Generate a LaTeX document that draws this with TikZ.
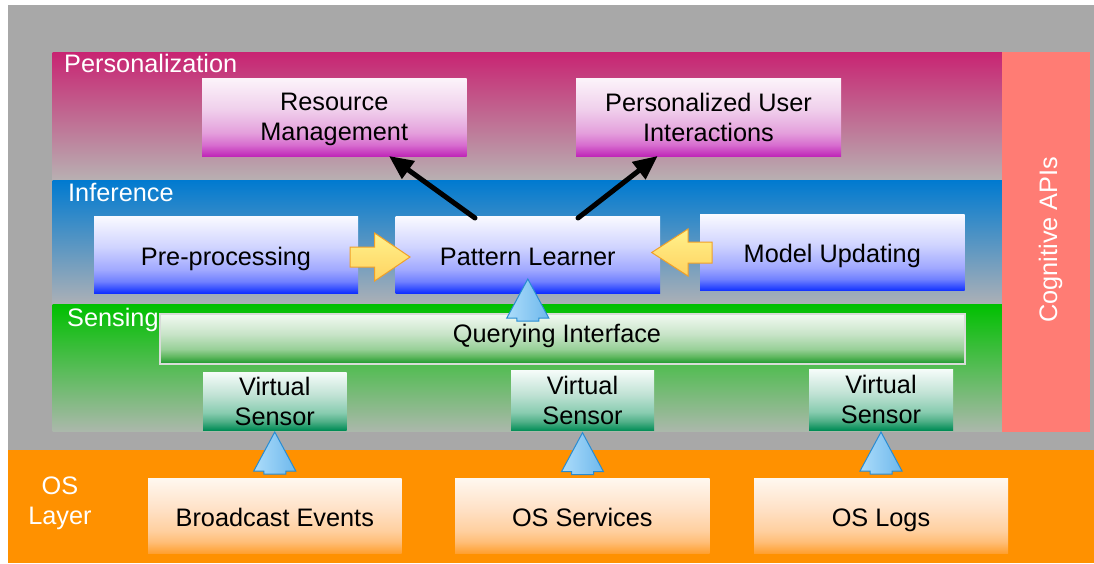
\documentclass[tikz,border=0pt]{standalone}
\usepackage{fontspec}
\setmainfont{Liberation Sans}
\usetikzlibrary{arrows.meta,calc,shadings}

\definecolor{bgGray}{RGB}{168,168,168}
\definecolor{osOrange}{RGB}{255,145,0}
\definecolor{cogPink}{RGB}{255,124,116}
\definecolor{persTop}{RGB}{200,36,114}
\definecolor{persBot}{RGB}{184,176,178}
\definecolor{infTop}{RGB}{0,122,208}
\definecolor{infBot}{RGB}{172,176,182}
\definecolor{senTop}{RGB}{0,192,0}
\definecolor{senBot}{RGB}{172,184,172}
% magenta boxes
\definecolor{mT}{RGB}{252,244,250}
\definecolor{mU}{RGB}{240,208,236}
\definecolor{mM}{RGB}{228,160,220}
\definecolor{mL}{RGB}{216,112,208}
\definecolor{mB}{RGB}{192,40,184}
% blue boxes
\definecolor{bT}{RGB}{250,250,255}
\definecolor{bU}{RGB}{208,212,255}
\definecolor{bM}{RGB}{160,168,255}
\definecolor{bL}{RGB}{112,128,255}
\definecolor{bB}{RGB}{16,48,255}
% querying (green)
\definecolor{qT}{RGB}{242,250,242}
\definecolor{qU}{RGB}{200,228,200}
\definecolor{qM}{RGB}{152,208,152}
\definecolor{qL}{RGB}{96,184,96}
\definecolor{qB}{RGB}{24,150,42}
\definecolor{qBorder}{RGB}{216,220,216}
% virtual sensor
\definecolor{vT}{RGB}{246,252,250}
\definecolor{vU}{RGB}{192,226,212}
\definecolor{vM}{RGB}{136,204,176}
\definecolor{vL}{RGB}{80,176,136}
\definecolor{vB}{RGB}{0,140,86}
% os boxes
\definecolor{oT}{RGB}{255,248,240}
\definecolor{oU}{RGB}{255,226,200}
\definecolor{oM}{RGB}{255,208,160}
\definecolor{oL}{RGB}{255,190,120}
\definecolor{oB}{RGB}{255,160,48}
% arrows
\definecolor{yTop}{RGB}{255,242,140}
\definecolor{yBot}{RGB}{255,210,96}
\definecolor{yEdge}{RGB}{240,160,40}
\definecolor{blL}{RGB}{172,220,250}
\definecolor{blR}{RGB}{110,184,236}
\definecolor{blEdge}{RGB}{40,140,210}

\pgfdeclareverticalshading{magbox}{100bp}{color(0bp)=(mB); color(25bp)=(mB); color(32.5bp)=(mL); color(40bp)=(mM); color(55bp)=(mU); color(75bp)=(mT); color(100bp)=(mT)}
\pgfdeclareverticalshading{bluebox}{100bp}{color(0bp)=(bB); color(25bp)=(bB); color(32.5bp)=(bL); color(40bp)=(bM); color(55bp)=(bU); color(75bp)=(bT); color(100bp)=(bT)}
\pgfdeclareverticalshading{qbox}{100bp}{color(0bp)=(qB); color(25bp)=(qB); color(32.5bp)=(qL); color(40bp)=(qM); color(55bp)=(qU); color(75bp)=(qT); color(100bp)=(qT)}
\pgfdeclareverticalshading{vbox}{100bp}{color(0bp)=(vB); color(25bp)=(vB); color(32.5bp)=(vL); color(40bp)=(vM); color(55bp)=(vU); color(75bp)=(vT); color(100bp)=(vT)}
\pgfdeclareverticalshading{obox}{100bp}{color(0bp)=(oB); color(25bp)=(oB); color(32.5bp)=(oL); color(40bp)=(oM); color(55bp)=(oU); color(75bp)=(oT); color(100bp)=(oT)}

\begin{document}
\begin{tikzpicture}[x=1pt,y=-1pt,
  region/.style={inner sep=0pt, outer sep=0pt, anchor=north west, draw=none},
  tbox/.style={inner sep=0pt, outer sep=0pt, anchor=north west, align=center,
     font=\fontsize{25.3}{30}\selectfont, text=black},
  oneline/.style={text height=21pt, text depth=0pt},
  lbl/.style={inner sep=0pt, text=white, font=\fontsize{25.3}{30}\selectfont},
  blk/.style={line width=5pt, line cap=round, draw=black, -{Triangle[length=24pt,width=21pt]}},
  yarrow/.style={draw=yEdge, line width=1pt, line join=miter, top color=yTop, bottom color=yBot},
  barrow/.style={draw=blEdge, line width=1pt, line join=miter, left color=blL, right color=blR}
]
\useasboundingbox (0,0) rectangle (1094,563);
\fill[white] (0,0) rectangle (1094,563);

% background regions
\node[region, fill=bgGray, minimum width=1086pt, minimum height=445pt] (bg) at (8,5) {};
\node[region, fill=osOrange, minimum width=1086pt, minimum height=113pt] (os) at (8,450) {};
\node[region, top color=persTop, bottom color=persBot, minimum width=949.4pt, minimum height=128pt] (pers) at (52.6,52) {};
\node[region, top color=infTop, bottom color=infBot, minimum width=949.4pt, minimum height=124pt] (inf) at (52.6,180) {};
\node[region, top color=senTop, bottom color=senBot, minimum width=949.4pt, minimum height=127.7pt] (sens) at (52.6,304) {};
\node[region, fill=cogPink, minimum width=87.5pt, minimum height=379.7pt] (cog) at (1002,52) {};

% layer labels
\node[lbl, anchor=base west] (lpers) at (64,72.7) {Personalization};
\node[lbl, anchor=base west] (linf) at (68,201) {Inference};
\node[lbl, anchor=base west] (lsens) at (67,326.7) {Sensing};
\node[lbl, align=center] (los) at (60,503.6) {OS\\Layer};
\node[lbl, rotate=90, anchor=base] (lcog) at (1057,239.5) {Cognitive APIs};

% personalization boxes
\node[tbox, shading=magbox, minimum width=264.5pt, minimum height=78pt] (rm) at (202,78) {Resource\\Mana\smash{g}ement};
\node[tbox, shading=magbox, minimum width=265pt, minimum height=78pt] (pui) at (576,78) {Personalized User\\Interactions};

% inference boxes
\node[tbox, oneline, shading=bluebox, minimum width=264pt, minimum height=77pt] (pre) at (94,216) {Pre-processing};
\node[tbox, oneline, shading=bluebox, minimum width=264.4pt, minimum height=77pt] (pl) at (395.6,216) {Pattern Learner};
\node[tbox, oneline, shading=bluebox, minimum width=264.6pt, minimum height=76.7pt] (mu) at (700,214) {Model Updating};

% sensing boxes
\node[tbox, shading=qbox, draw=qBorder, line width=2pt, minimum width=805pt, minimum height=50pt] (qi) at (160,314) {};
\node[inner sep=0pt, font=\fontsize{25.3}{30}\selectfont, anchor=base] (qit) at (557,342.7) {Querying Interface};
\node[tbox, shading=vbox, minimum width=143.5pt, minimum height=58pt] (vs1) at (203,372) {Virtual\\Sensor};
\node[tbox, shading=vbox, minimum width=143pt, minimum height=60.7pt] (vs2) at (511,370) {Virtual\\Sensor};
\node[tbox, shading=vbox, minimum width=144pt, minimum height=61pt] (vs3) at (809,369) {Virtual\\Sensor};

% OS boxes
\node[tbox, oneline, shading=obox, minimum width=253.6pt, minimum height=75pt] (be) at (148,478) {Broadcast Events};
\node[tbox, oneline, shading=obox, minimum width=254.6pt, minimum height=75pt] (oss) at (455,478) {OS Services};
\node[tbox, oneline, shading=obox, minimum width=254pt, minimum height=75pt] (osl) at (754,478) {OS Logs};

% black arrows
\draw[blk] ($(pl.north west)+(79.4,2)$) -- ($(rm.south west)+(187,0)$);
\draw[blk] ($(pl.north west)+(182.4,2)$) -- ($(pui.south west)+(81.6,0)$);

% yellow block arrows
\coordinate (ytip1) at ($(pl.west)+(14.4,2.5)$);
\draw[yarrow] (ytip1) -- ++(-35.4,-24) -- ++(0,14) -- ++(-24.6,0) -- ++(0,20) -- ++(24.6,0) -- ++(0,14) -- cycle;
\coordinate (ytip2) at ($(pl.east)+(-8.3,-2)$);
\draw[yarrow] (ytip2) -- ++(36.3,-23.5) -- ++(0,13) -- ++(24,0) -- ++(0,21) -- ++(-24,0) -- ++(0,13) -- cycle;

% blue up arrows
\coordinate (btip0) at ($(pl.south)+(0,-14)$);
\coordinate (btip1) at ($(vs1.south)+(0,2)$);
\coordinate (btip2) at ($(vs2.south)+(0,2)$);
\coordinate (btip3) at ($(vs3.south)+(0,2)$);
\foreach \t in {btip0,btip1,btip2,btip3}
  \draw[barrow] (\t) -- ++(21,39) -- ++(-10,0) -- ++(0,3) -- ++(-22,0) -- ++(0,-3) -- ++(-10,0) -- cycle;
\end{tikzpicture}
\end{document}
